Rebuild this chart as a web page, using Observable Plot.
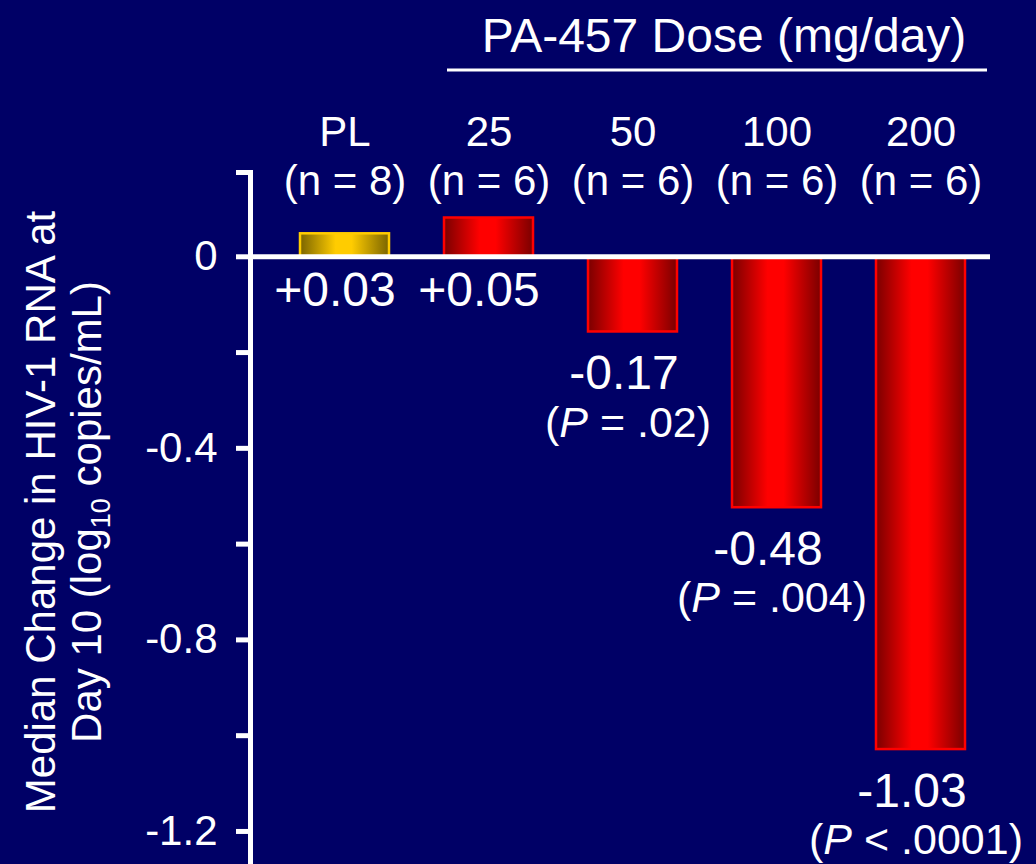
<!DOCTYPE html>
<html>
<head>
<meta charset="utf-8">
<script src="https://cdn.jsdelivr.net/npm/d3@7"></script>
<script src="https://cdn.jsdelivr.net/npm/@observablehq/plot@0.6"></script>
<style>
html, body { margin: 0; padding: 0; background: #000066; }
#chart svg { display: block; background: linear-gradient(to bottom, #000066 0%, #000066 45%, #000036 100%); }
</style>
</head>
<body>
<div id="chart"></div>
<script>
// ---- data ----
const categories = ["PL", "25", "50", "100", "200"];
const groupSizes = ["(n = 8)", "(n = 6)", "(n = 6)", "(n = 6)", "(n = 6)"];
const medianChange = [0.048, 0.081, -0.157, -0.524, -1.029];
const valueLabels = ["+0.03", "+0.05", "-0.17", "-0.48", "-1.03"];
const pLabels = ["", "", "(P = .02)", "(P = .004)", "(P < .0001)"];
const yTicks = [0.176, 0, -0.2, -0.4, -0.6, -0.8, -1.0, -1.2];
const yTickLabels = ["", "0", "", "-0.4", "", "-0.8", "", "-1.2"];
const doseTitle = "PA-457 Dose (mg/day)";
const yTitleLine1 = "Median Change in HIV-1 RNA at";
const yTitleLine2 = ["Day 10 (log", "10", " copies/mL)"];

const rows = categories.map((c, i) => ({
  cat: c,
  head: c + "\n" + groupSizes[i],
  value: medianChange[i],
  label: valueLabels[i],
  p: pLabels[i],
  placebo: c === "PL"
}));

const font = "'Liberation Sans', Arial, sans-serif";

const chart = Plot.plot({
  width: 1036,
  height: 864,
  marginLeft: 250,
  marginRight: 46,
  marginTop: 172,
  marginBottom: 0,
  style: { background: "transparent", color: "white", fontFamily: font },
  x: { domain: categories, range: [243, 1021], padding: 0.384, axis: null },
  y: { domain: [-1.269, 0.176], axis: null },
  marks: [
    Plot.barY(rows.filter(d => d.placebo), { x: "cat", y: "value", fill: "url(#goldGrad)", stroke: "#ffcc00", strokeWidth: 2.5 }),
    Plot.barY(rows.filter(d => !d.placebo), { x: "cat", y: "value", fill: "url(#redGrad)", stroke: "#ff0000", strokeWidth: 2.5 }),
    Plot.ruleY([0], { stroke: "white", strokeWidth: 5 }),
    Plot.frame({ anchor: "left", stroke: "white", strokeWidth: 5 }),
    Plot.axisY({
      ticks: yTicks,
      tickFormat: d => yTickLabels[yTicks.indexOf(d)],
      tickSize: 14,
      tickPadding: 19,
      stroke: "white",
      strokeWidth: 5,
      fontSize: 42,
      fill: "white",
      label: null
    }),
    Plot.text(rows, {
      x: "cat", text: "head", frameAnchor: "top", lineAnchor: "middle",
      dy: -18, lineHeight: 1.17, fontSize: 42, fill: "white"
    }),
    Plot.text(rows.filter(d => d.value >= 0), {
      x: "cat", y: 0, text: "label",
      dy: 34, fontSize: 48, fill: "white", dx: -10, lineAnchor: "middle"
    }),
    Plot.text(rows.filter(d => d.value < 0), {
      x: "cat", y: "value", text: "label",
      dy: 42, fontSize: 48, fill: "white", dx: -9, lineAnchor: "middle"
    }),
    Plot.text(rows.filter(d => d.value < 0), {
      x: "cat", y: "value", text: "p",
      dy: 91, fontSize: 43, fill: "white", dx: -5, lineAnchor: "middle"
    })
  ]
});

document.getElementById("chart").appendChild(chart);

const svg = d3.select(chart);

// gradients
const defs = svg.insert("defs", ":first-child");
function grad(id, edge, mid) {
  const g = defs.append("linearGradient").attr("id", id).attr("x1", 0).attr("x2", 1).attr("y1", 0).attr("y2", 0);
  g.append("stop").attr("offset", "0%").attr("stop-color", edge);
  g.append("stop").attr("offset", "40%").attr("stop-color", mid);
  g.append("stop").attr("offset", "58%").attr("stop-color", mid);
  g.append("stop").attr("offset", "100%").attr("stop-color", edge);
}
grad("redGrad", "#7a0000", "#ff0000");
grad("goldGrad", "#7a6400", "#ffcc00");

// italic P in p-value labels
svg.selectAll("text").filter(function() { return this.textContent.startsWith("(P"); }).each(function() {
  const t = d3.select(this);
  const s = this.textContent;
  const k = s.indexOf("P");
  t.text(null);
  t.append("tspan").text(s.slice(0, k));
  t.append("tspan").attr("font-style", "italic").text("P");
  t.append("tspan").text(s.slice(k + 1));
});

// dose header
svg.append("text")
  .attr("x", 724).attr("y", 35).attr("dy", "0.35em")
  .attr("text-anchor", "middle").attr("fill", "white")
  .attr("font-family", font).attr("font-size", 48)
  .text(doseTitle);
svg.append("line")
  .attr("x1", 447).attr("x2", 987).attr("y1", 70).attr("y2", 70)
  .attr("stroke", "white").attr("stroke-width", 3);

// y axis title
const yt = svg.append("g").attr("transform", "translate(0,512) rotate(-90)")
  .attr("fill", "white").attr("font-family", font).attr("font-size", 42).attr("text-anchor", "middle");
yt.append("text").attr("x", 0).attr("y", 40).attr("dy", "0.35em").text(yTitleLine1);
const l2 = yt.append("text").attr("x", 0).attr("y", 86).attr("dy", "0.35em");
l2.append("tspan").text(yTitleLine2[0]);
l2.append("tspan").attr("font-size", 27).attr("dy", 9).text(yTitleLine2[1]);
l2.append("tspan").attr("dy", -9).text(yTitleLine2[2]);
</script>
</body>
</html>
